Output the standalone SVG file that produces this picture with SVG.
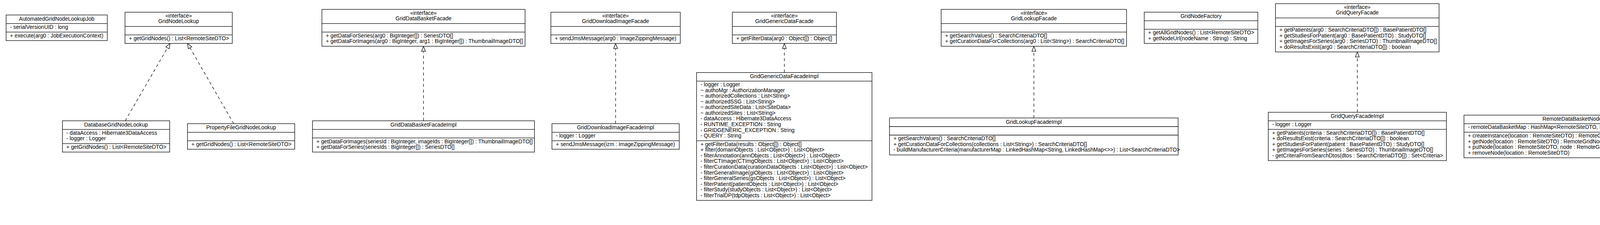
<svg xmlns="http://www.w3.org/2000/svg" width="5503" height="576" viewBox="0 0 5503 576">
<style>
.box rect{fill:#fff;stroke:#000;stroke-width:1.3}
.box line{stroke:#000;stroke-width:1.3}
text{font-family:"Liberation Sans",Arial,Helvetica,sans-serif;font-size:13.8px;fill:#000}
.c{text-anchor:middle}
.edge{stroke:#000;stroke-width:1.3;stroke-dasharray:7.5,7;fill:none;marker-end:url(#real)}
</style>
<defs>
<marker id="real" markerUnits="userSpaceOnUse" markerWidth="16" markerHeight="12" refX="13" refY="5" orient="auto" overflow="visible">
<path d="M0,0 L13,5 L0,10 Z" fill="#fff" stroke="#000" stroke-width="1.3" stroke-dasharray="none"/>
</marker>
</defs>
<rect width="5503" height="576" fill="#fff"/>

<g id="edges">
<line class="edge" x1="320.5" y1="309.3" x2="435.3" y2="111.2"/>
<line class="edge" x1="598.2" y1="316.55" x2="480" y2="111.2"/>
<line class="edge" x1="1084.15" y1="309.3" x2="1084.15" y2="118.45"/>
<line class="edge" x1="1575.9" y1="316.55" x2="1575.9" y2="111.2"/>
<line class="edge" x1="2008" y1="185.6" x2="2008" y2="111.2"/>
<line class="edge" x1="2646.7" y1="302" x2="2646.7" y2="118.45"/>
<line class="edge" x1="3474.7" y1="287.45" x2="3474.7" y2="132.95"/>
<line class="edge" x1="4141" y1="294.7" x2="4481" y2="132.95"/>
<line class="edge" x1="4644" y1="294.7" x2="4644" y2="132.95"/>
<line class="edge" x1="5127" y1="294.7" x2="4811.7" y2="132.95"/>
</g>

<g id="AutomatedGridNodeLookupJob" class="box">
<rect x="15.6" y="38.4" width="259" height="65.5"/>
<line x1="15.6" y1="60.4" x2="274.6" y2="60.4"/><line x1="15.6" y1="82.15" x2="274.6" y2="82.15"/>
<text class="c" x="145.1" y="52.9">AutomatedGridNodeLookupJob</text>
<text x="25.6" y="73.9">- serialVersionUID : long</text>
<text x="25.6" y="95.65">+ execute(arg0 : JobExecutionContext)</text>
</g>

<g id="GridNodeLookup" class="box">
<rect x="320" y="31.3" width="274.6" height="79.9"/>
<line x1="320" y1="67.7" x2="594.6" y2="67.7"/><line x1="320" y1="89.45" x2="594.6" y2="89.45"/>
<text class="c" x="457.3" y="44.8">«interface»</text>
<text class="c" x="457.3" y="59.3">GridNodeLookup</text>
<text x="330" y="102.95">+ getGridNodes() : List&lt;RemoteSiteDTO&gt;</text>
</g>

<g id="GridDataBasketFacade" class="box">
<rect x="824.1" y="24" width="520.1" height="94.45"/>
<line x1="824.1" y1="60.4" x2="1344.2" y2="60.4"/><line x1="824.1" y1="82.15" x2="1344.2" y2="82.15"/>
<text class="c" x="1084.15" y="37.5">«interface»</text>
<text class="c" x="1084.15" y="52">GridDataBasketFacade</text>
<text x="834.1" y="95.65">+ getDataForSeries(arg0 : BigInteger[]) : SeriesDTO[]</text>
<text x="834.1" y="110.2">+ getDataForImages(arg0 : BigInteger, arg1 : BigInteger[]) : ThumbnailImageDTO[]</text>
</g>

<g id="GridDownloadImageFacade" class="box">
<rect x="1410.3" y="31.3" width="331.2" height="79.9"/>
<line x1="1410.3" y1="67.7" x2="1741.5" y2="67.7"/><line x1="1410.3" y1="89.45" x2="1741.5" y2="89.45"/>
<text class="c" x="1575.9" y="44.8">«interface»</text>
<text class="c" x="1575.9" y="59.3">GridDownloadImageFacade</text>
<text x="1420.3" y="102.95">+ sendJmsMessage(arg0 : ImageZippingMessage)</text>
</g>

<g id="GridGenericDataFacade" class="box">
<rect x="1874.7" y="31.3" width="266.6" height="79.9"/>
<line x1="1874.7" y1="67.7" x2="2141.3" y2="67.7"/><line x1="1874.7" y1="89.45" x2="2141.3" y2="89.45"/>
<text class="c" x="2008" y="44.8">«interface»</text>
<text class="c" x="2008" y="59.3">GridGenericDataFacade</text>
<text x="1884.7" y="102.95">+ getFilterData(arg0 : Object[]) : Object[]</text>
</g>

<g id="GridLookupFacade" class="box">
<rect x="2409.4" y="24" width="474.6" height="94.45"/>
<line x1="2409.4" y1="60.4" x2="2884" y2="60.4"/><line x1="2409.4" y1="82.15" x2="2884" y2="82.15"/>
<text class="c" x="2646.7" y="37.5">«interface»</text>
<text class="c" x="2646.7" y="52">GridLookupFacade</text>
<text x="2419.4" y="95.65">+ getSearchValues() : SearchCriteriaDTO[]</text>
<text x="2419.4" y="110.2">+ getCurationDataForCollections(arg0 : List&lt;String&gt;) : SearchCriteriaDTO[]</text>
</g>

<g id="GridNodeFactory" class="box">
<rect x="2929.3" y="31.2" width="290.7" height="80.05"/>
<line x1="2929.3" y1="53.2" x2="3220" y2="53.2"/><line x1="2929.3" y1="74.95" x2="3220" y2="74.95"/>
<text class="c" x="3074.65" y="45.7">GridNodeFactory</text>
<text x="2939.3" y="88.45">+ getAllGridNodes() : List&lt;RemoteSiteDTO&gt;</text>
<text x="2939.3" y="103">+ getNodeUrl(nodeName : String) : String</text>
</g>

<g id="GridQueryFacade" class="box">
<rect x="3265.3" y="9.4" width="418.7" height="123.55"/>
<line x1="3265.3" y1="45.8" x2="3684" y2="45.8"/><line x1="3265.3" y1="67.55" x2="3684" y2="67.55"/>
<text class="c" x="3474.65" y="22.9">«interface»</text>
<text class="c" x="3474.65" y="37.4">GridQueryFacade</text>
<text x="3275.3" y="81.05">+ getPatients(arg0 : SearchCriteriaDTO[]) : BasePatientDTO[]</text>
<text x="3275.3" y="95.6">+ getStudiesForPatient(arg0 : BasePatientDTO) : StudyDTO[]</text>
<text x="3275.3" y="110.15">+ getImagesForSeries(arg0 : SeriesDTO) : ThumbnailImageDTO[]</text>
<text x="3275.3" y="124.7">+ doResultsExist(arg0 : SearchCriteriaDTO[]) : boolean</text>
</g>

<g id="RemoteNodeBuilderStrategy" class="box">
<rect x="4440" y="9.4" width="408.3" height="123.55"/>
<line x1="4440" y1="45.8" x2="4848.3" y2="45.8"/><line x1="4440" y1="67.55" x2="4848.3" y2="67.55"/>
<text class="c" x="4644.15" y="22.9">«interface»</text>
<text class="c" x="4644.15" y="37.4">RemoteNodeBuilderStrategy</text>
<text x="4450" y="81.05">+ createInstance(location : RemoteSiteDTO) : RemoteGridNode</text>
<text x="4450" y="95.6">+ getNode(location : RemoteSiteDTO) : RemoteGridNode</text>
<text x="4450" y="110.15">+ putNode(location : RemoteSiteDTO, node : RemoteGridNode)</text>
<text x="4450" y="124.7">+ removeNode(location : RemoteSiteDTO)</text>
</g>

<g id="RemoteGridNode" class="box">
<rect x="4893.3" y="24" width="213.4" height="94.45"/>
<line x1="4893.3" y1="60.4" x2="5106.7" y2="60.4"/><line x1="4893.3" y1="82.15" x2="5106.7" y2="82.15"/>
<text class="c" x="5000" y="37.5">«interface»</text>
<text class="c" x="5000" y="52">RemoteGridNode</text>
<text x="4903.3" y="95.65">+ isRemoteSiteAlive() : boolean</text>
<text x="4903.3" y="110.2">+ getCreationTime() : long</text>
</g>

<g id="RemoteNodeFactory" class="box">
<rect x="5151.7" y="60.2" width="147.3" height="22"/>
<text class="c" x="5225.35" y="74.7">RemoteNodeFactory</text>
</g>

<g id="DatabaseGridNodeLookup" class="box">
<rect x="159.8" y="309.3" width="274.6" height="80.05"/>
<line x1="159.8" y1="331.3" x2="434.4" y2="331.3"/><line x1="159.8" y1="367.6" x2="434.4" y2="367.6"/>
<text class="c" x="297.1" y="323.8">DatabaseGridNodeLookup</text>
<text x="169.8" y="344.8">- dataAccess : Hibernate3DataAccess</text>
<text x="169.8" y="359.35">- logger : Logger</text>
<text x="169.8" y="381.1">+ getGridNodes() : List&lt;RemoteSiteDTO&gt;</text>
</g>

<g id="PropertyFileGridNodeLookup" class="box">
<rect x="480" y="316.55" width="274.5" height="65.5"/>
<line x1="480" y1="338.55" x2="754.5" y2="338.55"/><line x1="480" y1="360.3" x2="754.5" y2="360.3"/>
<text class="c" x="617.25" y="331.05">PropertyFileGridNodeLookup</text>
<text x="490" y="373.8">+ getGridNodes() : List&lt;RemoteSiteDTO&gt;</text>
</g>

<g id="GridDataBasketFacadeImpl" class="box">
<rect x="800" y="309.3" width="568.3" height="80.05"/>
<line x1="800" y1="331.3" x2="1368.3" y2="331.3"/><line x1="800" y1="353.05" x2="1368.3" y2="353.05"/>
<text class="c" x="1084.15" y="323.8">GridDataBasketFacadeImpl</text>
<text x="810" y="366.55">+ getDataForImages(seriesId : BigInteger, imageIds : BigInteger[]) : ThumbnailImageDTO[]</text>
<text x="810" y="381.1">+ getDataForSeries(seriesIds : BigInteger[]) : SeriesDTO[]</text>
</g>

<g id="GridDownloadImageFacadeImpl" class="box">
<rect x="1413" y="316.55" width="325.8" height="65.5"/>
<line x1="1413" y1="338.55" x2="1738.8" y2="338.55"/><line x1="1413" y1="360.3" x2="1738.8" y2="360.3"/>
<text class="c" x="1575.9" y="331.05">GridDownloadImageFacadeImpl</text>
<text x="1423" y="352.05">- logger : Logger</text>
<text x="1423" y="373.8">+ sendJmsMessage(izm : ImageZippingMessage)</text>
</g>

<g id="GridGenericDataFacadeImpl" class="box">
<rect x="1783.3" y="185.6" width="449" height="327.4"/>
<line x1="1783.3" y1="207.6" x2="2232.3" y2="207.6"/><line x1="1783.3" y1="360.3" x2="2232.3" y2="360.3"/>
<text class="c" x="2007.8" y="200.1">GridGenericDataFacadeImpl</text>
<text x="1793.3" y="221.1">- logger : Logger</text>
<text x="1793.3" y="235.65">~ authoMgr : AuthorizationManager</text>
<text x="1793.3" y="250.2">~ authorizedCollections : List&lt;String&gt;</text>
<text x="1793.3" y="264.75">~ authorizedSSG : List&lt;String&gt;</text>
<text x="1793.3" y="279.3">~ authorizedSiteData : List&lt;SiteData&gt;</text>
<text x="1793.3" y="293.85">~ authorizedSites : List&lt;String&gt;</text>
<text x="1793.3" y="308.4">- dataAccess : Hibernate3DataAccess</text>
<text x="1793.3" y="322.95">- RUNTIME_EXCEPTION : String</text>
<text x="1793.3" y="337.5">- GRIDGENERIC_EXCEPTION : String</text>
<text x="1793.3" y="352.05">- QUERY : String</text>
<text x="1793.3" y="373.8">+ getFilterData(results : Object[]) : Object[]</text>
<text x="1793.3" y="388.35">+ filter(domainObjects : List&lt;Object&gt;) : List&lt;Object&gt;</text>
<text x="1793.3" y="402.9">- filterAnnotation(annObjects : List&lt;Object&gt;) : List&lt;Object&gt;</text>
<text x="1793.3" y="417.45">- filterCTImage(CTImgObjects : List&lt;Object&gt;) : List&lt;Object&gt;</text>
<text x="1793.3" y="432">- filterCurationData(curationDataObjects : List&lt;Object&gt;) : List&lt;Object&gt;</text>
<text x="1793.3" y="446.55">- filterGeneralImage(giObjects : List&lt;Object&gt;) : List&lt;Object&gt;</text>
<text x="1793.3" y="461.1">- filterGeneralSeries(gsObjects : List&lt;Object&gt;) : List&lt;Object&gt;</text>
<text x="1793.3" y="475.65">- filterPatient(patientObjects : List&lt;Object&gt;) : List&lt;Object&gt;</text>
<text x="1793.3" y="490.2">- filterStudy(studyObjects : List&lt;Object&gt;) : List&lt;Object&gt;</text>
<text x="1793.3" y="504.75">- filterTrialDP(tdpObjects : List&lt;Object&gt;) : List&lt;Object&gt;</text>
</g>

<g id="GridLookupFacadeImpl" class="box">
<rect x="2277.2" y="302" width="738.8" height="94.6"/>
<line x1="2277.2" y1="324" x2="3016" y2="324"/><line x1="2277.2" y1="345.75" x2="3016" y2="345.75"/>
<text class="c" x="2646.6" y="316.5">GridLookupFacadeImpl</text>
<text x="2287.2" y="359.25">+ getSearchValues() : SearchCriteriaDTO[]</text>
<text x="2287.2" y="373.8">+ getCurationDataForCollections(collections : List&lt;String&gt;) : SearchCriteriaDTO[]</text>
<text x="2287.2" y="388.35">- buildManufacturerCriteria(manufacturerMap : LinkedHashMap&lt;String, LinkedHashMap&lt;&gt;&gt;) : List&lt;SearchCriteriaDTO&gt;</text>
</g>

<g id="GridQueryFacadeImpl" class="box">
<rect x="3246.7" y="287.45" width="456" height="123.7"/>
<line x1="3246.7" y1="309.45" x2="3702.7" y2="309.45"/><line x1="3246.7" y1="331.2" x2="3702.7" y2="331.2"/>
<text class="c" x="3474.7" y="301.95">GridQueryFacadeImpl</text>
<text x="3256.7" y="322.95">- logger : Logger</text>
<text x="3256.7" y="344.7">+ getPatients(criteria : SearchCriteriaDTO[]) : BasePatientDTO[]</text>
<text x="3256.7" y="359.25">+ doResultsExist(criteria : SearchCriteriaDTO[]) : boolean</text>
<text x="3256.7" y="373.8">+ getStudiesForPatient(patient : BasePatientDTO) : StudyDTO[]</text>
<text x="3256.7" y="388.35">+ getImagesForSeries(series : SeriesDTO) : ThumbnailImageDTO[]</text>
<text x="3256.7" y="402.9">- getCriteraFromSearchDtos(dtos : SearchCriteriaDTO[]) : Set&lt;Criteria&gt;</text>
</g>

<g id="RemoteDataBasketNodeBuilder" class="box">
<rect x="3747.7" y="294.7" width="597.6" height="109.15"/>
<line x1="3747.7" y1="316.7" x2="4345.3" y2="316.7"/><line x1="3747.7" y1="338.45" x2="4345.3" y2="338.45"/>
<text class="c" x="4046.5" y="309.2">RemoteDataBasketNodeBuilder</text>
<text x="3757.7" y="330.2">- remoteDataBasketMap : HashMap&lt;RemoteSiteDTO, RemoteDataBasketResultSetManager&gt;</text>
<text x="3757.7" y="351.95">+ createInstance(location : RemoteSiteDTO) : RemoteGridNode</text>
<text x="3757.7" y="366.5">+ getNode(location : RemoteSiteDTO) : RemoteGridNode</text>
<text x="3757.7" y="381.05">+ putNode(location : RemoteSiteDTO, node : RemoteGridNode)</text>
<text x="3757.7" y="395.6">+ removeNode(location : RemoteSiteDTO)</text>
</g>

<g id="RemoteLookupNodeBuilder" class="box">
<rect x="4390.7" y="294.7" width="506.6" height="109.15"/>
<line x1="4390.7" y1="316.7" x2="4897.3" y2="316.7"/><line x1="4390.7" y1="338.45" x2="4897.3" y2="338.45"/>
<text class="c" x="4644" y="309.2">RemoteLookupNodeBuilder</text>
<text x="4400.7" y="330.2">- remoteLookupMap : HashMap&lt;RemoteSiteDTO, RemoteLookupManagerImpl&gt;</text>
<text x="4400.7" y="351.95">+ createInstance(location : RemoteSiteDTO) : RemoteGridNode</text>
<text x="4400.7" y="366.5">+ getNode(location : RemoteSiteDTO) : RemoteGridNode</text>
<text x="4400.7" y="381.05">+ putNode(location : RemoteSiteDTO, node : RemoteGridNode)</text>
<text x="4400.7" y="395.6">+ removeNode(location : RemoteSiteDTO)</text>
</g>

<g id="RemoteResultManagerNodeBuilder" class="box">
<rect x="4942.7" y="294.7" width="544" height="109.15"/>
<line x1="4942.7" y1="316.7" x2="5486.7" y2="316.7"/><line x1="4942.7" y1="338.45" x2="5486.7" y2="338.45"/>
<text class="c" x="5214.7" y="309.2">RemoteResultManagerNodeBuilder</text>
<text x="4952.7" y="330.2">- remoteResultManagerMap : HashMap&lt;RemoteSiteDTO, RemoteResultSetManager&gt;</text>
<text x="4952.7" y="351.95">+ createInstance(location : RemoteSiteDTO) : RemoteGridNode</text>
<text x="4952.7" y="366.5">+ getNode(location : RemoteSiteDTO) : RemoteGridNode</text>
<text x="4952.7" y="381.05">+ putNode(location : RemoteSiteDTO, node : RemoteGridNode)</text>
<text x="4952.7" y="395.6">+ removeNode(location : RemoteSiteDTO)</text>
</g>
</svg>
